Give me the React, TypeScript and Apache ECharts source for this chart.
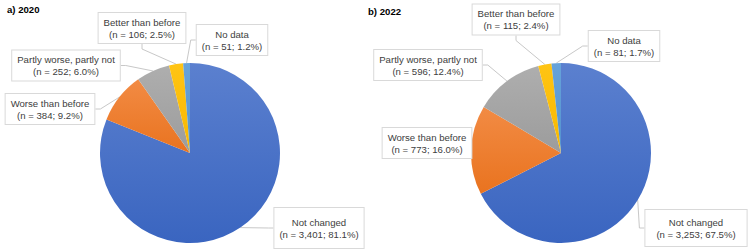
import React, { useEffect, useRef } from "react";
import * as echarts from "echarts";

const categories = [
  "Not changed",
  "Worse than before",
  "Partly worse, partly not",
  "Better than before",
  "No data",
];
const counts2020 = [3401, 384, 252, 106, 51];
const percent2020 = [81.1, 9.2, 6.0, 2.5, 1.2];
const counts2022 = [3253, 773, 596, 115, 81];
const percent2022 = [67.5, 16.0, 12.4, 2.4, 1.7];
const titles = ["a) 2020", "b) 2022"];

const gradients: [string, string][] = [
  ["#5B80CF", "#3A65C0"],
  ["#F28B44", "#E9731F"],
  ["#AEAEAE", "#9C9C9C"],
  ["#FFC414", "#F7B800"],
  ["#67A3DA", "#5492CE"],
];

// label box centres and paddings (layout only)
const leftLabels = [
  { x: 319, y: 228, pad: [8, 5] },
  { x: 50, y: 109, pad: [3, 5] },
  { x: 66, y: 65.5, pad: [3, 5] },
  { x: 142, y: 28, pad: [3, 5] },
  { x: 232, y: 40, pad: [3, 5] },
];
const rightLabels = [
  { x: 696, y: 228, pad: [6, 11] },
  { x: 427, y: 143, pad: [3, 5] },
  { x: 428, y: 65, pad: [3, 5] },
  { x: 516, y: 19.5, pad: [3, 5] },
  { x: 624, y: 46, pad: [3, 5] },
];

const fmt = (n: number) => n.toLocaleString("en-US");

function buildData(counts: number[], pcts: number[], labels: any[]) {
  return categories.map((name, i) => ({
    name,
    value: counts[i],
    itemStyle: {
      color: new echarts.graphic.LinearGradient(0, 0, 0, 1, [
        { offset: 0, color: gradients[i][0] },
        { offset: 1, color: gradients[i][1] },
      ]),
    },
    label: {
      formatter: `${name}\n(n = ${fmt(counts[i])}; ${pcts[i].toFixed(1)}%)`,
      padding: labels[i].pad,
    },
  }));
}

function makeSeries(center: number[], counts: number[], pcts: number[], labels: any[]) {
  return {
    type: "pie",
    center,
    radius: 90,
    startAngle: 90,
    clockwise: true,
    avoidLabelOverlap: false,
    data: buildData(counts, pcts, labels),
    itemStyle: { borderWidth: 0 },
    label: {
      show: true,
      position: "outside",
      color: "#404040",
      fontSize: 9.6,
      lineHeight: 12,
      fontFamily: "Liberation Sans, Arial, sans-serif",
      align: "center",
      backgroundColor: "#FFFFFF",
      borderColor: "#D9D9D9",
      borderWidth: 1,
    },
    labelLine: {
      show: true,
      length: 5,
      length2: 5,
      lineStyle: { color: "#C8C8C8", width: 1 },
    },
    labelLayout: (params: any) => ({
      x: labels[params.dataIndex].x,
      y: labels[params.dataIndex].y,
      align: "center",
      verticalAlign: "middle",
    }),
    emphasis: { disabled: true },
  };
}

export default function App() {
  const ref = useRef<HTMLDivElement>(null);
  useEffect(() => {
    if (!ref.current) return;
    const chart = echarts.init(ref.current, null, { renderer: "svg" });
    chart.setOption({
      animation: false,
      backgroundColor: "#FFFFFF",
      graphic: [
        {
          type: "text",
          left: 7,
          top: 4,
          style: {
            text: titles[0],
            fontSize: 9.6,
            fontWeight: "bold",
            fontFamily: "Liberation Sans, Arial, sans-serif",
            fill: "#000000",
          },
        },
        {
          type: "text",
          left: 368,
          top: 6,
          style: {
            text: titles[1],
            fontSize: 9.6,
            fontWeight: "bold",
            fontFamily: "Liberation Sans, Arial, sans-serif",
            fill: "#000000",
          },
        },
      ],
      series: [
        makeSeries([190, 153], counts2020, percent2020, leftLabels),
        makeSeries([561, 153], counts2022, percent2022, rightLabels),
      ],
    });
    return () => chart.dispose();
  }, []);
  return (
    <div
      ref={ref}
      style={{ width: 752, height: 251, position: "absolute", left: 0, top: 0 }}
    />
  );
}
